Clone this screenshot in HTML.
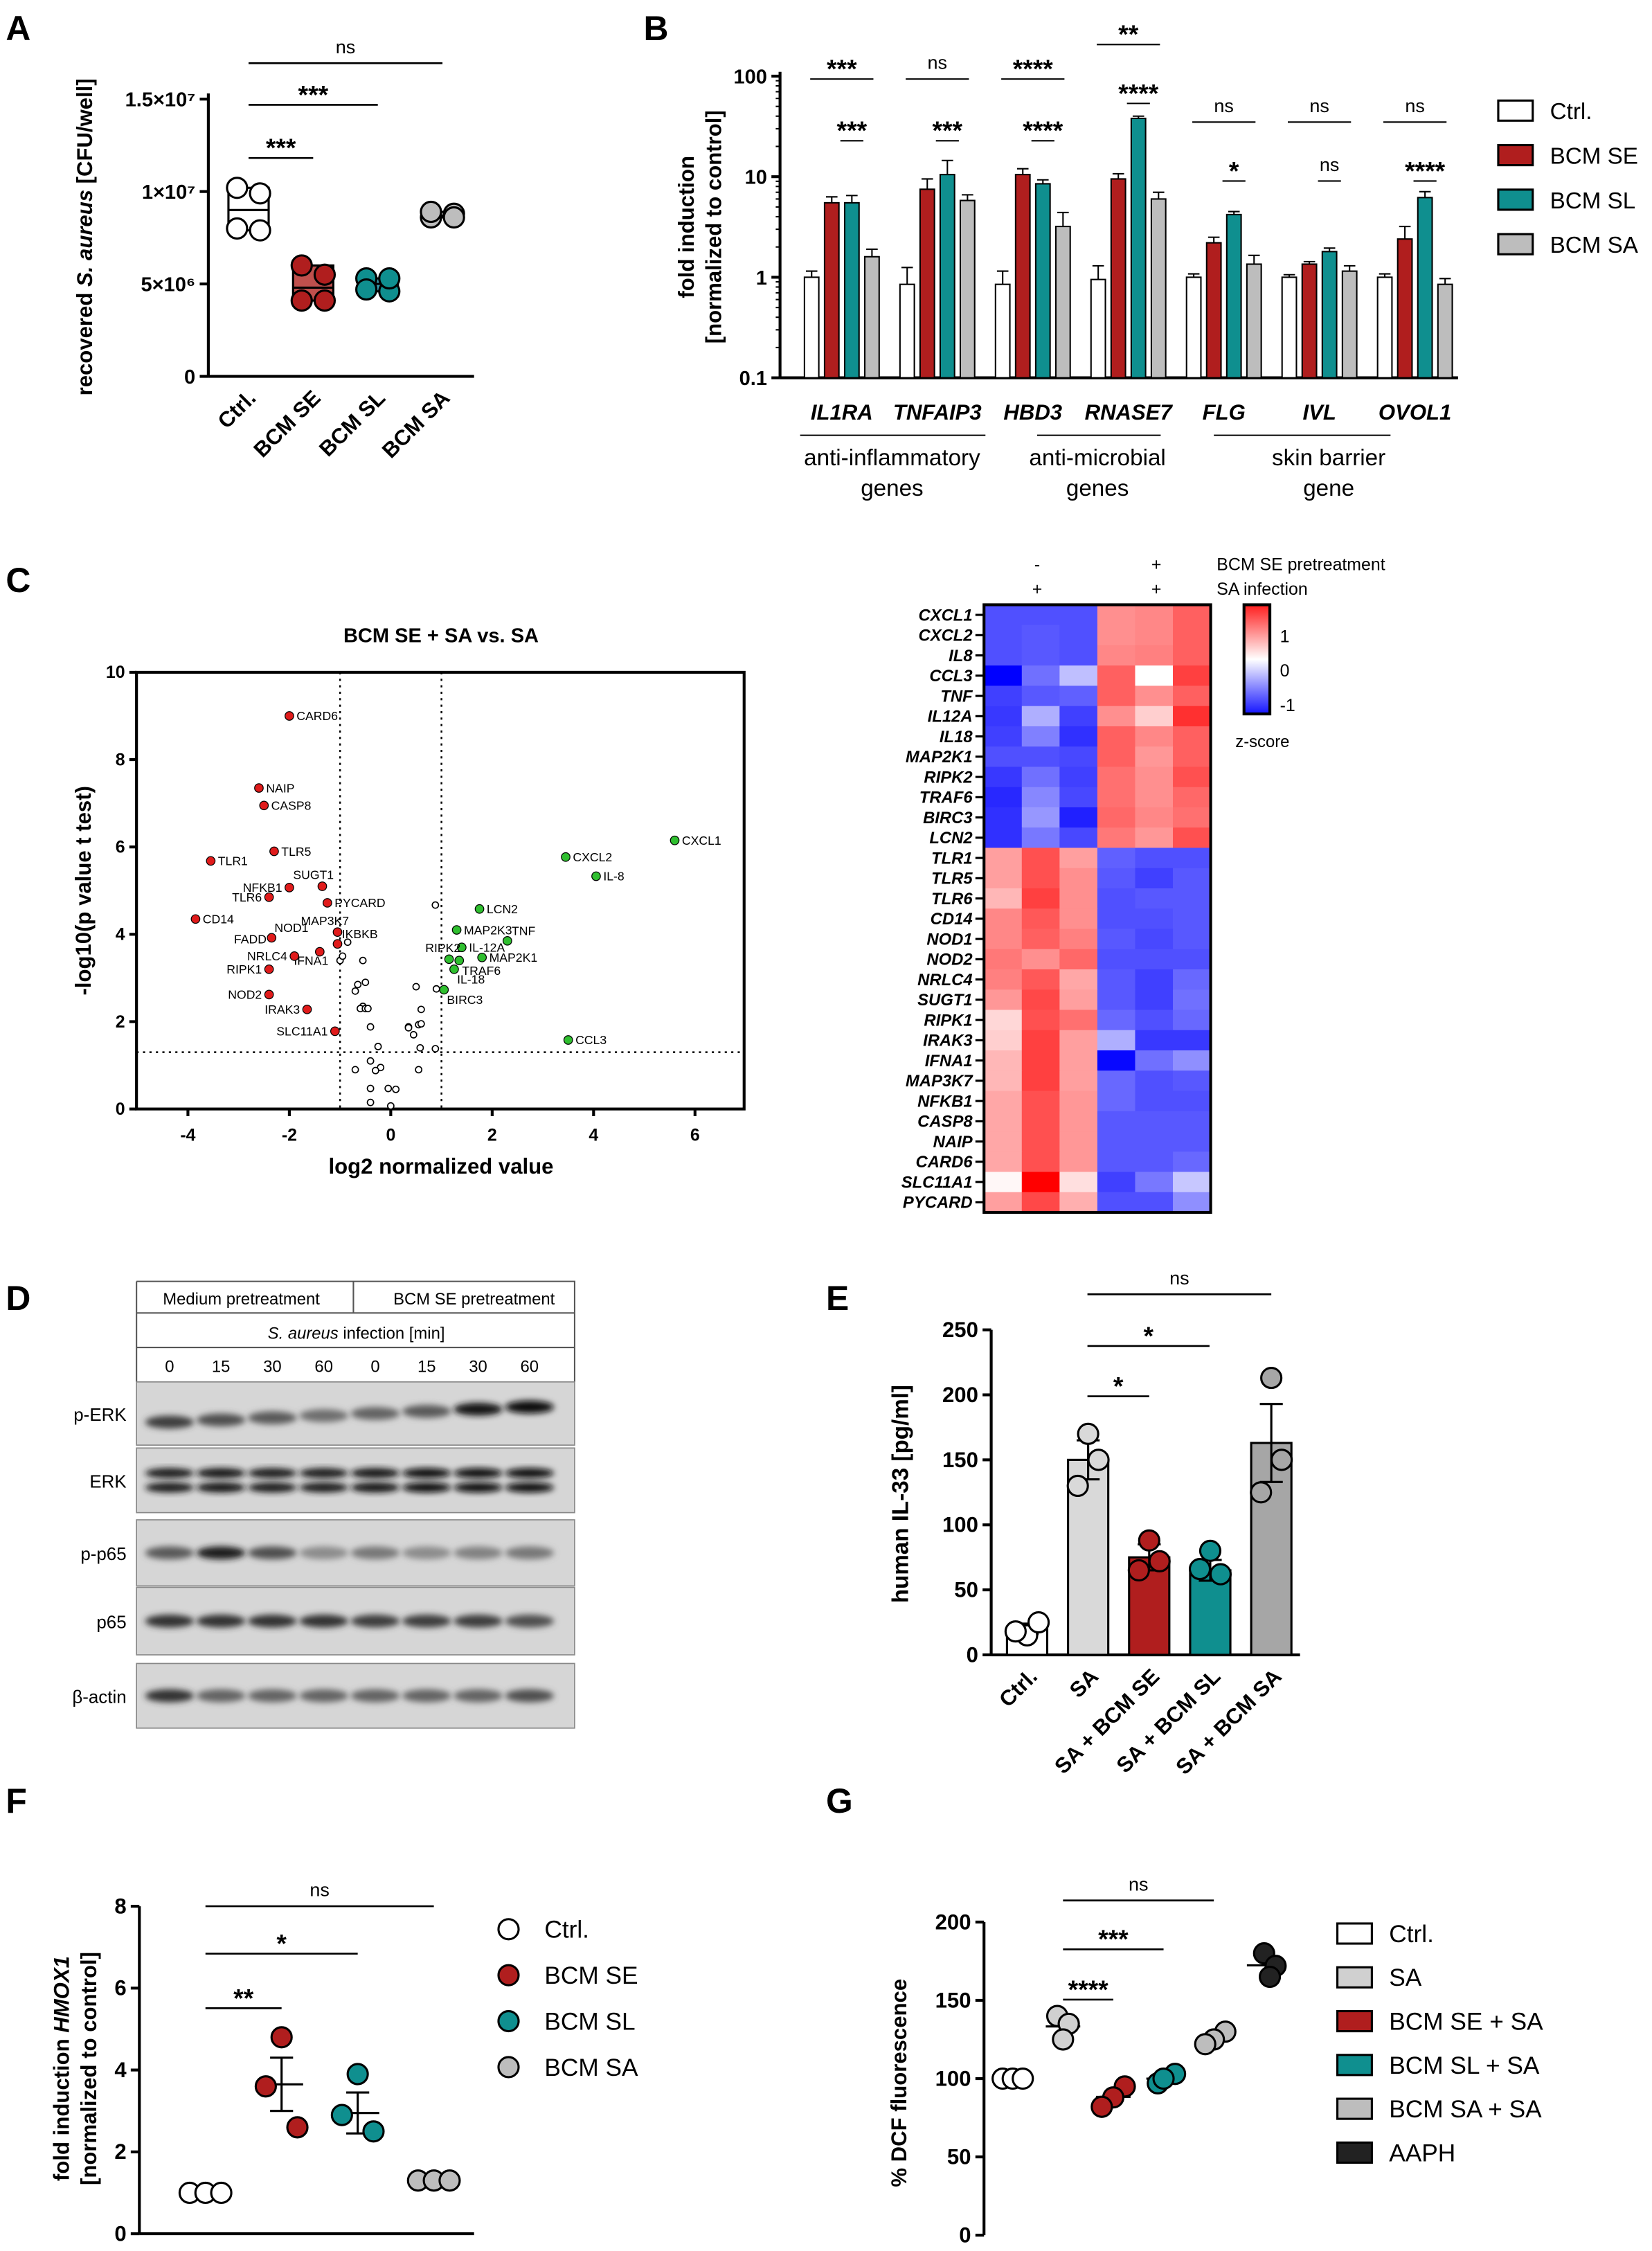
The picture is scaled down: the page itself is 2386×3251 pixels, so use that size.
<!DOCTYPE html>
<html><head><meta charset="utf-8">
<style>
html,body{margin:0;padding:0;background:#fff;}
svg{display:block;font-family:"Liberation Sans",Arial,sans-serif;}
.b{font-weight:bold}
</style></head>
<body>
<svg id="fig" width="2386" height="3251" viewBox="0 0 1150 1567" xmlns="http://www.w3.org/2000/svg">
<defs>
<filter id="blur" x="-20%" y="-50%" width="140%" height="200%"><feGaussianBlur stdDeviation="2.2"/></filter>
</defs>
<g id="gA"></g>
<g id="gB"></g>
<g id="gC"></g>
<g id="gH"></g>
<g id="gD"></g>
<g id="gE"></g>
<g id="gF"></g>
<g id="gG"></g>
</svg>
<script>
// ---------- DATA ----------
const aCats=["Ctrl.","BCM SE","BCM SL","BCM SA"];
const aPts=[[1.02e7,9.9e6,8.0e6,7.9e6],[6.0e6,5.5e6,4.1e6,4.1e6],[5.3e6,4.6e6,4.7e6,5.3e6],[8.6e6,8.8e6,8.9e6,8.6e6]];
const aMed=[9.0e6,4.8e6,5.0e6,8.7e6];
const aTicks=[0,5e6,1e7,1.5e7];
const aTickLbl=["0","5×10⁶","1×10⁷","1.5×10⁷"];

const bGenes=["IL1RA","TNFAIP3","HBD3","RNASE7","FLG","IVL","OVOL1"];
const bCtrl=[1,0.85,0.85,0.95,1,1,1];
const bSE=[5.5,7.5,10.5,9.5,2.2,1.35,2.4];
const bSL=[5.5,10.5,8.5,38,4.2,1.8,6.2];
const bSA=[1.6,5.8,3.2,6,1.35,1.15,0.85];
const bErr=[[0.15,0.4,0.3,0.35,0.08,0.06,0.08],[0.8,2,1.5,1.2,0.3,0.08,0.8],[1,4,0.8,2,0.3,0.15,0.9],[0.3,0.8,1.2,1,0.3,0.15,0.12]];
const bTicks=[0.1,1,10,100];

const vRedN=["CARD6","NAIP","CASP8","TLR5","TLR1","NFKB1","SUGT1","TLR6","PYCARD","CD14","MAP3K7","NOD1","IKBKB","IFNA1","NRLC4","RIPK1","NOD2","IRAK3","SLC11A1"];
const vRedX=[-2,-2.6,-2.5,-2.3,-3.55,-2,-1.35,-2.4,-1.25,-3.85,-1.05,-2.35,-1.05,-1.4,-1.9,-2.4,-2.4,-1.65,-1.1];
const vRedY=[9,7.35,6.95,5.9,5.68,5.07,5.1,4.85,4.72,4.35,4.05,3.92,3.78,3.6,3.5,3.2,2.62,2.28,1.78];
const vRedSide=["r","r","r","r","r","l","tl","l","r","r","tl","t","tr","bl","l","l","l","l","l"];
const vGrnN=["CXCL1","CXCL2","IL-8","LCN2","MAP2K3","TNF","IL-12A","RIPK2","MAP2K1","TRAF6","IL-18","BIRC3","CCL3"];
const vGrnX=[5.6,3.45,4.05,1.75,1.3,2.3,1.4,1.15,1.8,1.35,1.25,1.05,3.5];
const vGrnY=[6.15,5.77,5.33,4.58,4.1,3.85,3.7,3.43,3.47,3.4,3.2,2.73,1.58];
const vGrnSide=["r","r","r","r","r","tr","r","tl","r","br","br","br","r"];
const vNsX=[0.88,-0.85,-0.55,-0.5,-0.65,-0.7,-0.55,-0.6,-0.5,-0.45,0.5,0.9,0.6,-0.4,0.35,0.55,0.6,0.35,0.45,-0.25,0.58,0.88,-0.4,-0.2,-0.7,-0.3,0.55,-0.4,-0.05,0.1,-0.4,0,-1.0,-0.95];
const vNsY=[4.67,3.82,3.4,2.9,2.85,2.7,2.35,2.3,2.3,2.3,2.8,2.75,2.28,1.88,1.88,1.93,1.95,1.86,1.7,1.43,1.4,1.38,1.1,0.95,0.9,0.88,0.9,0.47,0.47,0.45,0.15,0.07,3.4,3.5];
const vXTicks=[-4,-2,0,2,4,6];
const vYTicks=[0,2,4,6,8,10];

const hGenes=["CXCL1","CXCL2","IL8","CCL3","TNF","IL12A","IL18","MAP2K1","RIPK2","TRAF6","BIRC3","LCN2","TLR1","TLR5","TLR6","CD14","NOD1","NOD2","NRLC4","SUGT1","RIPK1","IRAK3","IFNA1","MAP3K7","NFKB1","CASP8","NAIP","CARD6","SLC11A1","PYCARD"];
const hZ=[
[-1.1,-1.1,-1.1,0.7,0.75,1.0],[-1.1,-1.05,-1.1,0.7,0.75,1.0],[-1.1,-1.05,-1.1,0.75,0.8,1.0],[-1.6,-0.9,-0.4,1.0,0,1.2],
[-1.2,-1.05,-1.0,1.0,0.7,1.0],[-1.25,-0.5,-1.2,0.7,0.3,1.3],[-1.2,-0.8,-1.3,1.0,0.75,1.0],[-1.1,-1.1,-1.15,1.0,0.65,1.0],
[-1.25,-0.9,-1.2,0.9,0.7,1.1],[-1.35,-0.75,-1.15,0.9,0.7,0.95],[-1.3,-0.65,-1.4,0.95,0.75,0.9],[-1.3,-0.85,-1.15,0.85,0.65,1.1],
[0.6,1.1,0.6,-1.0,-1.1,-1.1],[0.6,1.1,0.7,-1.05,-1.2,-1.05],[0.45,1.2,0.7,-1.1,-1.05,-1.05],[0.75,1.05,0.7,-1.1,-1.1,-1.05],
[0.75,1.0,0.8,-1.05,-1.15,-1.05],[0.85,0.7,0.95,-1.1,-1.1,-1.1],[0.8,1.05,0.55,-1.05,-1.2,-0.95],[0.65,1.15,0.6,-1.05,-1.2,-0.9],
[0.25,1.1,0.9,-0.95,-1.1,-0.95],[0.3,1.2,0.6,-0.5,-1.25,-1.25],[0.45,1.2,0.6,-1.55,-0.9,-0.7],[0.45,1.2,0.6,-0.95,-1.1,-1.05],
[0.55,1.1,0.65,-0.95,-1.1,-1.1],[0.55,1.1,0.65,-1.05,-1.05,-1.05],[0.55,1.1,0.65,-1.05,-1.05,-1.05],[0.55,1.1,0.65,-1.05,-1.05,-0.95],
[0.05,1.6,0.2,-1.2,-0.85,-0.35],[0.6,1.15,0.5,-1.1,-1.1,-0.7]];

const dLanes=["0","15","30","60","0","15","30","60"];
const dBlots=["p-ERK","ERK","p-p65","p65","β-actin"];
const dInt=[[0.7,0.6,0.55,0.45,0.5,0.55,0.9,0.95],[0.85,0.9,0.85,0.85,0.9,0.95,0.95,0.95],[0.55,0.85,0.6,0.3,0.4,0.3,0.35,0.4],[0.75,0.75,0.75,0.75,0.7,0.7,0.7,0.6],[0.75,0.5,0.5,0.5,0.5,0.5,0.5,0.6]];

const eCats=["Ctrl.","SA","SA + BCM SE","SA + BCM SL","SA + BCM SA"];
const eMean=[20,150,75,65,163];
const eSem=[4,15,10,8,30];
const ePts=[[15,25,18],[170,150,130],[88,72,65],[80,62,66],[213,150,125]];
const eTicks=[0,50,100,150,200,250];

const fCats=["Ctrl.","BCM SE","BCM SL","BCM SA"];
const fPts=[[1,1,1],[4.8,3.6,2.6],[3.9,2.9,2.5],[1.3,1.3,1.3]];
const fMean=[1,3.65,2.95,1.3];
const fSem=[0.02,0.65,0.5,0.02];
const fTicks=[0,2,4,6,8];

const gCats=["Ctrl.","SA","BCM SE + SA","BCM SL + SA","BCM SA + SA","AAPH"];
const gPts=[[100,100,100],[140,135,125],[95,88,82],[103,97,100],[130,125,122],[180,172,165]];
const gTicks=[0,50,100,150,200];

// ---------- HELPERS ----------
const NS="http://www.w3.org/2000/svg";
function mk(tag,attrs,parent){const e=document.createElementNS(NS,tag);for(const k in attrs)e.setAttribute(k,attrs[k]);parent.appendChild(e);return e;}
function txt(s,attrs,parent){const e=mk("text",attrs,parent);e.textContent=s;return e;}
function mean(a){return a.reduce((x,y)=>x+y,0)/a.length;}
const COLS={ctrl:"#ffffff",se:"#b01e1e",sl:"#0f8f8f",sa:"#bdbdbd",k:"#222"};

// ---------- PANEL A ----------
(function(){
const g=document.getElementById("gA");
const x0=145,yb=262,yt=40;
const y=v=>yb-(v/1.5e7)*(262-69);
const cx=i=>173+i*45;
let e=txt("A",{x:4,y:28,"font-size":24,class:"b"},g);

e=mk("line",{x1:x0,y1:yb,x2:x0,y2:65,stroke:"#000","stroke-width":2},g);

e=mk("line",{x1:x0,y1:yb,x2:330,y2:yb,stroke:"#000","stroke-width":2},g);

aTicks.forEach((t,i)=>{
 const l=mk("line",{x1:x0-6,y1:y(t),x2:x0,y2:y(t),stroke:"#000","stroke-width":2},g);
 
 const tt=txt(aTickLbl[i],{x:x0-9,y:y(t)+5,"text-anchor":"end","font-size":14,class:"b"},g);
 
});
e=txt("recovered ",{transform:"translate(64,165) rotate(-90)","text-anchor":"middle","font-size":15,class:"b"},g);
e.innerHTML='recovered <tspan font-style="italic">S. aureus</tspan> [CFU/well]';

const fills=[COLS.ctrl,COLS.se,COLS.sl,COLS.sa];
const boxF=["#fff","#c0504d","#3a9fb0","#bdbdbd"];
aPts.forEach((pts,i)=>{
 const mx=Math.max(...pts),mn=Math.min(...pts);
 const r=mk("rect",{x:cx(i)-14,y:y(mx),width:28,height:y(mn)-y(mx),fill:boxF[i],stroke:"#000","stroke-width":1.5},g);
 
 const m=mk("line",{x1:cx(i)-14,y1:y(aMed[i]),x2:cx(i)+14,y2:y(aMed[i]),stroke:"#000","stroke-width":1.5},g);
 
 const offs=[-8,8,-8,8];
 pts.forEach((v,j)=>{
  const c=mk("circle",{cx:cx(i)+offs[j],cy:y(v),r:7,fill:fills[i],stroke:"#000","stroke-width":1.5},g);
  
 });
 const lb=txt(aCats[i],{transform:`translate(${cx(i)+6},${yb+16}) rotate(-45)`,"text-anchor":"end","font-size":15,class:"b"},g);
 
});
[[173,218,110,"***"],[173,263,73,"***"],[173,308,44,"ns"]].forEach(s=>{
 const l=mk("line",{x1:s[0],y1:s[2],x2:s[1],y2:s[2],stroke:"#000","stroke-width":1.3},g);
 
 const t=txt(s[3],{x:(s[0]+s[1])/2,y:s[2]-(s[3]=="ns"?7:1),"text-anchor":"middle","font-size":s[3]=="ns"?13:18,class:s[3]=="ns"?"":"b"},g);
 
});
})();

// ---------- PANEL B ----------
(function(){
const g=document.getElementById("gB");
const x0=543,yb=263;
const y=v=>yb-(Math.log10(v)+1)*70;
const gx=i=>586+i*66.5;
let e=txt("B",{x:448,y:28,"font-size":24,class:"b"},g);

e=mk("line",{x1:x0,y1:yb,x2:x0,y2:50,stroke:"#000","stroke-width":2},g);

e=mk("line",{x1:x0,y1:yb,x2:1015,y2:yb,stroke:"#000","stroke-width":2},g);

bTicks.forEach(t=>{
 const l=mk("line",{x1:x0-6,y1:y(t),x2:x0,y2:y(t),stroke:"#000","stroke-width":2},g);
 
 const tt=txt(String(t),{x:x0-9,y:y(t)+5,"text-anchor":"end","font-size":14,class:"b"},g);
 
 for(let k=2;k<10&&t<100;k++){const m=mk("line",{x1:x0-3,y1:y(t*k),x2:x0,y2:y(t*k),stroke:"#000","stroke-width":1},g);
 }
});
e=txt("fold induction",{transform:"translate(483,158) rotate(-90)","text-anchor":"middle","font-size":15,class:"b"},g);

e=txt("[normalized to control]",{transform:"translate(502,158) rotate(-90)","text-anchor":"middle","font-size":15,class:"b"},g);

const series=[bCtrl,bSE,bSL,bSA],fills=["#fff",COLS.se,COLS.sl,COLS.sa],offs=[-21,-7,7,21],sn=["ctrl","bcm-se","bcm-sl","bcm-sa"];
bGenes.forEach((gn,i)=>{
 series.forEach((s,k)=>{
  const v=s[i],bx=gx(i)+offs[k];
  const r=mk("rect",{x:bx-5,y:y(v),width:10,height:yb-y(v),fill:fills[k],stroke:"#000","stroke-width":1},g);
  
  const er=bErr[k][i];
  const el=mk("path",{d:`M${bx},${y(v)} V${y(v+er)} M${bx-4},${y(v+er)} H${bx+4}`,stroke:"#000","stroke-width":1,fill:"none"},g);
  
 });
 const lb=txt(gn,{x:gx(i),y:292,"text-anchor":"middle","font-size":15,class:"b","font-style":"italic"},g);
 
});
[["anti-inflammatory",621,"genes",557,686],["anti-microbial",764,"genes",722,808],["skin barrier",925,"gene",845,968]].forEach(c=>{
 const l=mk("line",{x1:c[3],y1:303,x2:c[4],y2:303,stroke:"#000","stroke-width":1},g);
 
 const t1=txt(c[0],{x:c[1],y:324,"text-anchor":"middle","font-size":16},g);
 
 const t2=txt(c[2],{x:c[1],y:345,"text-anchor":"middle","font-size":16},g);
 
});
const top=[["***",0,55,"b"],["ns",1,55,""],["****",2,55,"b"],["**",3,31,"b"],["ns",4,85,""],["ns",5,85,""],["ns",6,85,""]];
top.forEach(s=>{const cx=gx(s[1]);
 const l=mk("line",{x1:cx-22,y1:s[2],x2:cx+22,y2:s[2],stroke:"#000","stroke-width":1},g);
 
 const t=txt(s[0],{x:cx,y:s[2]-(s[3]?1:7),"text-anchor":"middle","font-size":s[3]?18:13,class:s[3]},g);
 });
const sec=[["***",0,98,"b"],["***",1,98,"b"],["****",2,98,"b"],["****",3,72,"b"],["*",4,126,"b"],["ns",5,126,""],["****",6,126,"b"]];
sec.forEach(s=>{const cx=gx(s[1])+7;
 const l=mk("line",{x1:cx-8,y1:s[2],x2:cx+8,y2:s[2],stroke:"#000","stroke-width":1},g);
 
 const t=txt(s[0],{x:cx,y:s[2]-(s[3]?1:7),"text-anchor":"middle","font-size":s[3]?18:13,class:s[3]},g);
 });
["Ctrl.","BCM SE","BCM SL","BCM SA"].forEach((n,k)=>{const yy=78+k*31;
 const r=mk("rect",{x:1043,y:yy-8,width:24,height:14,fill:fills[k],stroke:"#000","stroke-width":1.5},g);
 
 const t=txt(n,{x:1079,y:yy+5,"font-size":16},g);
 });
})();

// ---------- PANEL C VOLCANO ----------
(function(){
const g=document.getElementById("gC");
const X=v=>272+v*35.3,Y=v=>772-v*30.4;
let e=txt("C",{x:4,y:412,"font-size":24,class:"b"},g);

e=txt("BCM SE +  SA vs. SA",{x:307,y:447,"text-anchor":"middle","font-size":14,class:"b"},g);

e=mk("rect",{x:95,y:Y(10),width:423,height:Y(0)-Y(10),fill:"none",stroke:"#000","stroke-width":2},g);

[-1,1].forEach(v=>{const l=mk("line",{x1:X(v),y1:Y(10),x2:X(v),y2:Y(0),stroke:"#000","stroke-width":1.2,"stroke-dasharray":"1.5,3"},g);
 });
e=mk("line",{x1:95,y1:Y(1.3),x2:518,y2:Y(1.3),stroke:"#000","stroke-width":1.2,"stroke-dasharray":"1.5,3"},g);

vXTicks.forEach(t=>{const l=mk("line",{x1:X(t),y1:Y(0),x2:X(t),y2:Y(0)+5,stroke:"#000","stroke-width":2},g);
 
 const tt=txt(String(t),{x:X(t),y:Y(0)+22,"text-anchor":"middle","font-size":12,class:"b"},g);
 });
vYTicks.forEach(t=>{const l=mk("line",{x1:90,y1:Y(t),x2:95,y2:Y(t),stroke:"#000","stroke-width":2},g);
 
 const tt=txt(String(t),{x:87,y:Y(t)+4,"text-anchor":"end","font-size":12,class:"b"},g);
 });
e=txt("log2 normalized value",{x:307,y:817,"text-anchor":"middle","font-size":15,class:"b"},g);

e=txt("-log10(p value t test)",{transform:"translate(63,620) rotate(-90)","text-anchor":"middle","font-size":15,class:"b"},g);

vNsX.forEach((v,i)=>{const c=mk("circle",{cx:X(v),cy:Y(vNsY[i]),r:2.2,fill:"#fff",stroke:"#000","stroke-width":0.8},g);
 });
function lab(names,xs,ys,sides,col,nm){names.forEach((n,i)=>{
 const px=X(xs[i]),py=Y(ys[i]);
 const c=mk("circle",{cx:px,cy:py,r:3,fill:col,stroke:"#000","stroke-width":0.6},g);
 
 const s=sides[i];let ax=px+5,ay=py+3,an="start";
 if(s=="l"){ax=px-5;an="end";}
 if(s=="t"){ax=px+2;ay=py-4;}
 if(s=="tl"){ax=px+8;ay=py-5;an="end";}
 if(s=="tr"){ax=px+3;ay=py-4;}
 if(s=="bl"){ax=px+6;ay=py+9;an="end";}
 if(s=="br"){ax=px+2;ay=py+10;}
 const t=txt(n,{x:ax,y:ay,"text-anchor":an,"font-size":8.5},g);
 });}
lab(vRedN,vRedX,vRedY,vRedSide,"#e01b1b","point-down");
lab(vGrnN,vGrnX,vGrnY,vGrnSide,"#2fbf2f","point-up");
e=txt("FADD",{x:X(-2.45),y:Y(3.92)+4,"text-anchor":"end","font-size":8.5},g);

})();

// ---------- PANEL C HEATMAP ----------
(function(){
const g=document.getElementById("gH");
const x0=685,y0=421,cw=26.3,rh=14.1;
function col(z){const t=Math.min(Math.abs(z)/1.6,1);const w=Math.round(255*(1-t));return z>=0?`rgb(255,${w},${w})`:`rgb(${w},${w},255)`;}
hZ.forEach((row,r)=>{row.forEach((z,c)=>{
 const rc=mk("rect",{x:x0+c*cw,y:y0+r*rh,width:cw+0.4,height:rh+0.4,fill:col(z)},g);
 });
 const l=mk("line",{x1:x0-6,y1:y0+r*rh+rh/2,x2:x0,y2:y0+r*rh+rh/2,stroke:"#000","stroke-width":1.5},g);
 
 const t=txt(hGenes[r],{x:x0-8,y:y0+r*rh+rh/2+4,"text-anchor":"end","font-size":11.5,class:"b","font-style":"italic"},g);
 });
let e=mk("rect",{x:x0,y:y0,width:6*cw,height:30*rh,fill:"none",stroke:"#000","stroke-width":2},g);

[["-",722,397],["+",805,397],["+",722,414],["+",805,414]].forEach(s=>{const t=txt(s[0],{x:s[1],y:s[2],"text-anchor":"middle","font-size":12},g);
 });
e=txt("BCM SE pretreatment",{x:847,y:397,"font-size":12},g);

e=txt("SA infection",{x:847,y:414,"font-size":12},g);

const lg=mk("linearGradient",{id:"cb",x1:0,y1:0,x2:0,y2:1},g);
[[0,"rgb(255,30,30)"],[0.5,"#fff"],[1,"rgb(20,20,255)"]].forEach(s=>mk("stop",{offset:s[0],"stop-color":s[1]},lg));
e=mk("rect",{x:866,y:421,width:18,height:76,fill:"url(#cb)",stroke:"#000","stroke-width":2},g);

[["1",443],["0",467],["-1",491]].forEach(s=>{const t=txt(s[0],{x:891,y:s[1]+4,"font-size":12},g);
 });
e=txt("z-score",{x:860,y:520,"font-size":11.5},g);

})();

// ---------- PANEL D ----------
(function(){
const g=document.getElementById("gD");
const lx=i=>118+i*35.8;
let e=txt("D",{x:4,y:912,"font-size":24,class:"b"},g);

e=mk("path",{d:"M95,892 H400 V962 M95,892 V962 M95,914 H400 M95,938 H400 M246,892 V914",fill:"none",stroke:"#555","stroke-width":1},g);

e=txt("Medium pretreatment",{x:168,y:908,"text-anchor":"middle","font-size":11.5},g);

e=txt("BCM SE pretreatment",{x:330,y:908,"text-anchor":"middle","font-size":11.5},g);

e=txt("",{x:248,y:932,"text-anchor":"middle","font-size":11.5},g);
e.innerHTML='<tspan font-style="italic">S. aureus</tspan> infection [min]';

dLanes.forEach((l,i)=>{const t=txt(l,{x:lx(i),y:955,"text-anchor":"middle","font-size":11.5},g);
 });
const rows=[[962,44],[1008,45],[1058,46],[1105,47],[1158,45]];
dBlots.forEach((b,k)=>{const r=rows[k];
 const bg=mk("rect",{x:95,y:r[0],width:305,height:r[1],fill:"#d6d6d6",stroke:"#888","stroke-width":0.8},g);
 
 const t=txt(b,{x:88,y:r[0]+r[1]/2+5,"text-anchor":"end","font-size":12.5},g);
 
 const dbl=(k==1);
 dInt[k].forEach((v,i)=>{const cy=r[0]+r[1]/2+(k==0?6-i*1.5:0);const gray=Math.round(200*(1-v));
  const band=mk("ellipse",{cx:lx(i),cy:dbl?cy-5:cy,rx:17,ry:dbl?3.5:4.5,fill:`rgb(${gray},${gray},${gray})`,filter:"url(#blur)"},g);
  
  if(dbl){const b2=mk("ellipse",{cx:lx(i),cy:cy+5,rx:17,ry:3.5,fill:`rgb(${gray},${gray},${gray})`,filter:"url(#blur)"},g);
  }
 });});
})();

// ---------- generic dot/bar plot ----------
function axisY(g,x0,yb,ytop,ticks,Y,fs){
 const a=mk("line",{x1:x0,y1:yb,x2:x0,y2:Y(ticks[ticks.length-1]),stroke:"#000","stroke-width":2},g);
 
 ticks.forEach(t=>{const l=mk("line",{x1:x0-6,y1:Y(t),x2:x0,y2:Y(t),stroke:"#000","stroke-width":2},g);
 
 const tt=txt(String(t),{x:x0-9,y:Y(t)+5,"text-anchor":"end","font-size":fs,class:"b"},g);
 });
}
function sig(g,x1,x2,yy,s){
 const l=mk("line",{x1:x1,y1:yy,x2:x2,y2:yy,stroke:"#000","stroke-width":1.3},g);
 
 const ns=s=="ns";
 const t=txt(s,{x:(x1+x2)/2,y:yy-(ns?7:1),"text-anchor":"middle","font-size":ns?13:18,class:ns?"":"b"},g);
 
}

// ---------- PANEL E ----------
(function(){
const g=document.getElementById("gE");
const x0=690,yb=1152,Y=v=>yb-v*0.905,cx=i=>715+i*42.5;
let e=txt("E",{x:575,y:912,"font-size":24,class:"b"},g);

axisY(g,x0,yb,0,eTicks,Y,15);
e=mk("line",{x1:x0,y1:yb,x2:905,y2:yb,stroke:"#000","stroke-width":2},g);

e=txt("human IL-33 [pg/ml]",{transform:"translate(632,1040) rotate(-90)","text-anchor":"middle","font-size":16,class:"b"},g);

const bf=["#fff","#d9d9d9",COLS.se,COLS.sl,"#a6a6a6"],pf=["#fff","#d9d9d9",COLS.se,COLS.sl,"#a6a6a6"];
eCats.forEach((c,i)=>{
 const r=mk("rect",{x:cx(i)-14,y:Y(eMean[i]),width:28,height:yb-Y(eMean[i]),fill:bf[i],stroke:"#000","stroke-width":1.5},g);
 
 const eb=mk("path",{d:`M${cx(i)},${Y(eMean[i]-eSem[i])} V${Y(eMean[i]+eSem[i])} M${cx(i)-8},${Y(eMean[i]+eSem[i])} H${cx(i)+8} M${cx(i)-8},${Y(eMean[i]-eSem[i])} H${cx(i)+8}`,stroke:"#000","stroke-width":1.5,fill:"none"},g);
 
 const offs=[0,8,-8];
 ePts[i].forEach((v,j)=>{const p=mk("circle",{cx:cx(i)+offs[j]*(i==0?1:0.9),cy:Y(v),r:7,fill:pf[i],stroke:"#000","stroke-width":1.5},g);
  });
 const lb=txt(c,{transform:`translate(${cx(i)+8},${yb+16}) rotate(-45)`,"text-anchor":"end","font-size":15,class:"b"},g);
 
});
sig(g,757,800,972,"*");sig(g,757,842,937,"*");sig(g,757,885,901,"ns");
})();

// ---------- PANEL F ----------
(function(){
const g=document.getElementById("gF");
const x0=97,yb=1555,Y=v=>yb-v*28.5,cx=i=>143+i*53;
let e=txt("F",{x:4,y:1262,"font-size":24,class:"b"},g);

axisY(g,x0,yb,0,fTicks,Y,15);
e=mk("line",{x1:x0,y1:yb,x2:330,y2:yb,stroke:"#000","stroke-width":2},g);

e=txt("",{transform:"translate(48,1440) rotate(-90)","text-anchor":"middle","font-size":15,class:"b"},g);
e.innerHTML='fold induction <tspan font-style="italic">HMOX1</tspan>';

e=txt("[normalized to control]",{transform:"translate(67,1440) rotate(-90)","text-anchor":"middle","font-size":15,class:"b"},g);

const pf=["#fff",COLS.se,COLS.sl,"#bdbdbd"];
fCats.forEach((c,i)=>{
 const m=fMean[i],s=fSem[i];
 const eb=mk("path",{d:`M${cx(i)-15},${Y(m)} H${cx(i)+15} M${cx(i)},${Y(m-s)} V${Y(m+s)} M${cx(i)-8},${Y(m+s)} H${cx(i)+8} M${cx(i)-8},${Y(m-s)} H${cx(i)+8}`,stroke:"#000","stroke-width":1.5,fill:"none"},g);
 
 const offs=i==0||i==3?[-11,0,11]:[0,-11,11];
 fPts[i].forEach((v,j)=>{const p=mk("circle",{cx:cx(i)+offs[j],cy:Y(v),r:7,fill:pf[i],stroke:"#000","stroke-width":1.5},g);
  });
 const ly=1343+i*32;
 const lc=mk("circle",{cx:354,cy:ly,r:7,fill:pf[i],stroke:"#000","stroke-width":1.5},g);
 
 const lt=txt(c,{x:379,y:ly+6,"font-size":17},g);
 
});
sig(g,143,196,1398,"**");sig(g,143,249,1360,"*");sig(g,143,302,1327,"ns");
})();

// ---------- PANEL G ----------
(function(){
const g=document.getElementById("gG");
const x0=685,yb=1556,Y=v=>yb-v*1.09,cx=i=>705+i*35;
let e=txt("G",{x:575,y:1262,"font-size":24,class:"b"},g);

axisY(g,x0,yb,0,gTicks,Y,15);
e=txt("% DCF fluorescence",{transform:"translate(631,1450) rotate(-90)","text-anchor":"middle","font-size":15,class:"b"},g);

const pf=["#fff","#d0d0d0",COLS.se,COLS.sl,"#bdbdbd","#222"];
gCats.forEach((c,i)=>{
 const m=mean(gPts[i]);
 const ml=mk("line",{x1:cx(i)-12,y1:Y(m),x2:cx(i)+12,y2:Y(m),stroke:"#000","stroke-width":1.5},g);
 
 const offs=[[-7,0,7],[-4,4,0],[8,0,-8],[8,-4,0],[8,0,-6],[0,8,4]][i];
 gPts[i].forEach((v,j)=>{const p=mk("circle",{cx:cx(i)+offs[j],cy:Y(v),r:7,fill:pf[i],stroke:"#000","stroke-width":1.5},g);
  });
 const ly=1346+i*30.5;
 const lr=mk("rect",{x:931,y:ly-7,width:24,height:14,fill:pf[i],stroke:"#000","stroke-width":1.5},g);
 
 const lt=txt(c,{x:967,y:ly+6,"font-size":17},g);
 
});
sig(g,740,775,1392,"****");sig(g,740,810,1357,"***");sig(g,740,845,1323,"ns");
})();
</script>
</body></html>
